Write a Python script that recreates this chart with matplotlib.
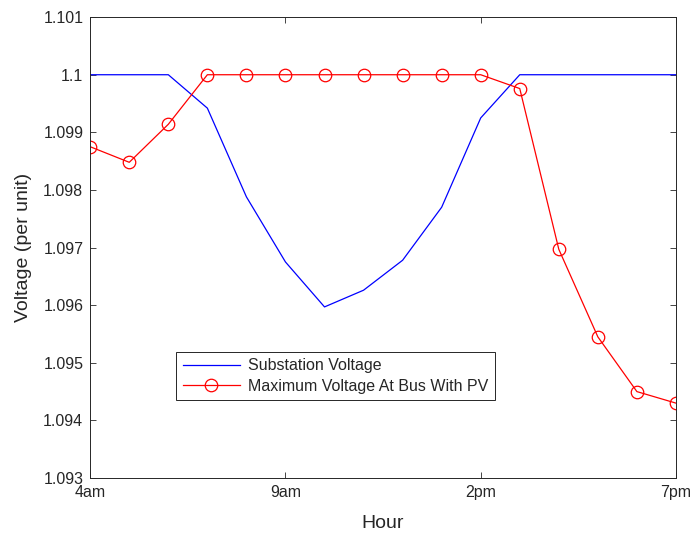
import matplotlib
matplotlib.use("Agg")
import matplotlib.pyplot as plt

plt.rcParams['font.family'] = ['Liberation Sans', 'DejaVu Sans']

# hours from 4am (4) to 7pm (19)
hours = list(range(4, 20))
substation = [1.1, 1.1, 1.1, 1.09942, 1.09788, 1.09675, 1.09597, 1.09626,
              1.09678, 1.0977, 1.09925, 1.1, 1.1, 1.1, 1.1, 1.1]
max_pv = [1.09875, 1.09848, 1.09914, 1.1, 1.1, 1.1, 1.1, 1.1,
          1.1, 1.1, 1.1, 1.09976, 1.09697, 1.09545, 1.0945, 1.0943]

xtick_pos = [4, 9, 14, 19]
xtick_labels = ['4am', '9am', '2pm', '7pm']
ytick_pos = [1.093, 1.094, 1.095, 1.096, 1.097, 1.098, 1.099, 1.1, 1.101]
ytick_labels = ['1.093', '1.094', '1.095', '1.096', '1.097', '1.098', '1.099', '1.1', '1.101']

fig = plt.figure(figsize=(6.94, 5.35), dpi=100)
ax = fig.add_axes([0.130, 0.1065, 0.844, 0.8615])

ax.plot(hours, substation, color='#0000ff', lw=0.9, label='Substation Voltage')
ax.plot(hours, max_pv, color='#ff0000', lw=0.9, marker='o', markersize=9,
        markerfacecolor='none', markeredgecolor='#ff0000', markeredgewidth=0.9,
        label='Maximum Voltage At Bus With PV')

ax.set_xlim(4, 19)
ax.set_ylim(1.093, 1.101)
ax.set_xticks(xtick_pos)
ax.set_xticklabels(xtick_labels)
ax.set_yticks(ytick_pos)
ax.set_yticklabels(ytick_labels)

grey = '#262626'
ax.tick_params(direction='in', length=4, width=0.6, colors=grey, labelsize=11.5,
               top=True, right=True, pad=5)
for s in ax.spines.values():
    s.set_color(grey)
    s.set_linewidth(0.7)

ax.set_xlabel('Hour', fontsize=14, color=grey, labelpad=11)
ax.set_ylabel('Voltage (per unit)', fontsize=14, color=grey, labelpad=8)

leg = ax.legend(loc='lower left', bbox_to_anchor=(0.147, 0.169), fontsize=11.5,
                frameon=True, fancybox=False, edgecolor=grey, framealpha=1,
                borderpad=0.4, handlelength=3.6, labelspacing=0.35, borderaxespad=0,
                handletextpad=0.5)
leg.get_frame().set_linewidth(0.7)
for t in leg.get_texts():
    t.set_color(grey)

fig.savefig('out.png', dpi=100)
